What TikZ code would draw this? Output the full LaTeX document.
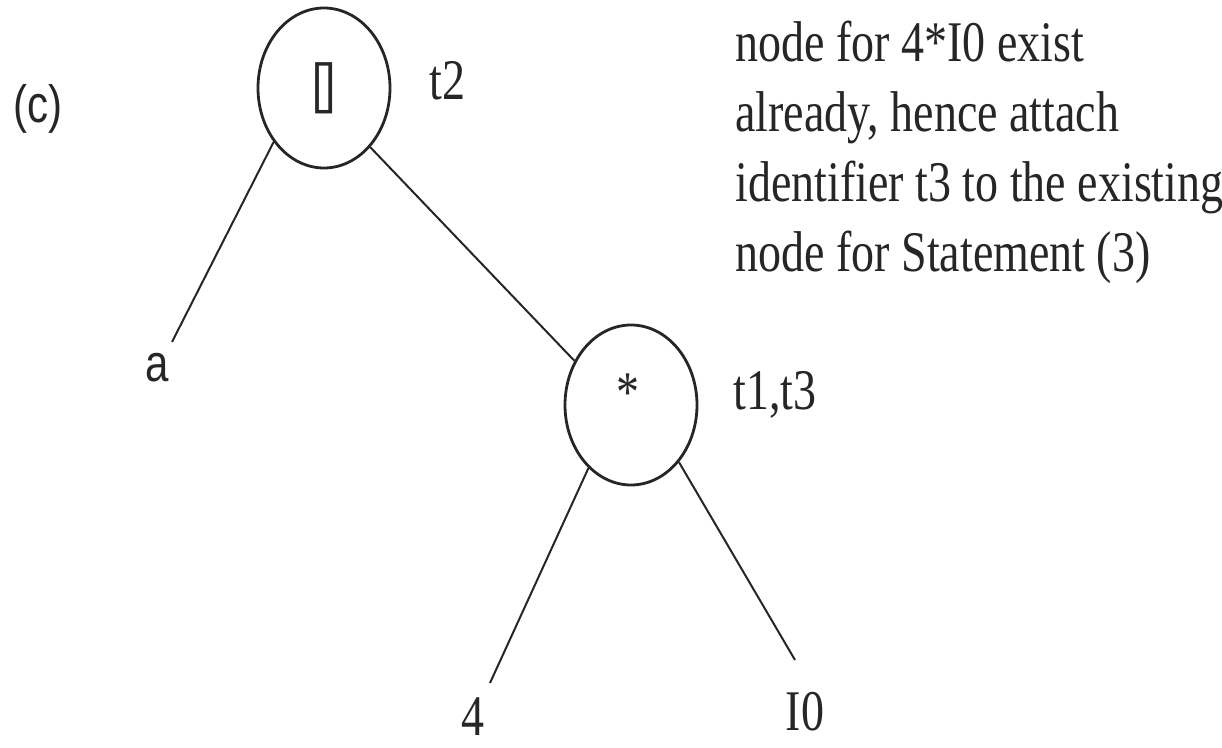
\documentclass[tikz,border=0pt]{standalone}
\usepackage{graphicx}
\usepackage{fontspec}
\setmainfont{Liberation Serif}
\setsansfont{Liberation Sans}
\usetikzlibrary{shapes.geometric}
\definecolor{ink}{HTML}{262626}
\newcommand{\vst}[1]{\scalebox{1}[1.25]{#1}}
\begin{document}
\begin{tikzpicture}[x=0.5pt,y=-0.5pt,
  bub/.style={draw=ink, line width=1.4pt, ellipse, minimum width=66pt, minimum height=80pt, inner sep=0pt},
  edge/.style={draw=ink, line width=1pt},
  lbl/.style={inner sep=0pt, text=ink, font=\fontsize{23}{28}\selectfont},
  slbl/.style={inner sep=0pt, text=ink, font=\sffamily\fontsize{21}{25}\selectfont}]
\useasboundingbox (0,0) rectangle (1222,748);
% tree nodes
\node[bub, text=ink, font=\sffamily\fontsize{22}{26}\selectfont] (top) at (324,88) {\vst{[\kern-0.03em]}};
\node[bub] (low) at (631,405) {};
\node[lbl, anchor=base] (star) at (628,412) {\vst{*}};
% leaf ends
\coordinate (aend) at (172,342);
\coordinate (fourend) at (490,683);
\coordinate (izend) at (795,660);
% connectors
\draw[edge] (top.227) -- (aend);
\draw[edge] (top.-52) -- (low.142);
\draw[edge] (low.236) -- (fourend);
\draw[edge] (low.-50) -- (izend);
% labels
\node[slbl, anchor=base] (cap) at (38,123) {\vst{(c)}};
\node[lbl, anchor=base west] (t2) at (429,100) {\vst{t2}};
\node[lbl, anchor=base west] (t13) at (733,410) {\vst{t1,t3}};
\node[slbl, anchor=base] (aleaf) at (157,382) {\vst{a}};
\node[lbl, anchor=base] (four) at (473,735) {\vst{4}};
\node[lbl, anchor=base] (izero) at (805,730) {\vst{I0}};
\node[lbl, anchor=base west] (note) at (735,62) {\vst{\begin{tabular}[t]{@{}l@{}}node for 4*I0 exist\\ already, hence attach\\ identifier t3 to the existing\\ node for Statement (3)\end{tabular}}};
\end{tikzpicture}
\end{document}
